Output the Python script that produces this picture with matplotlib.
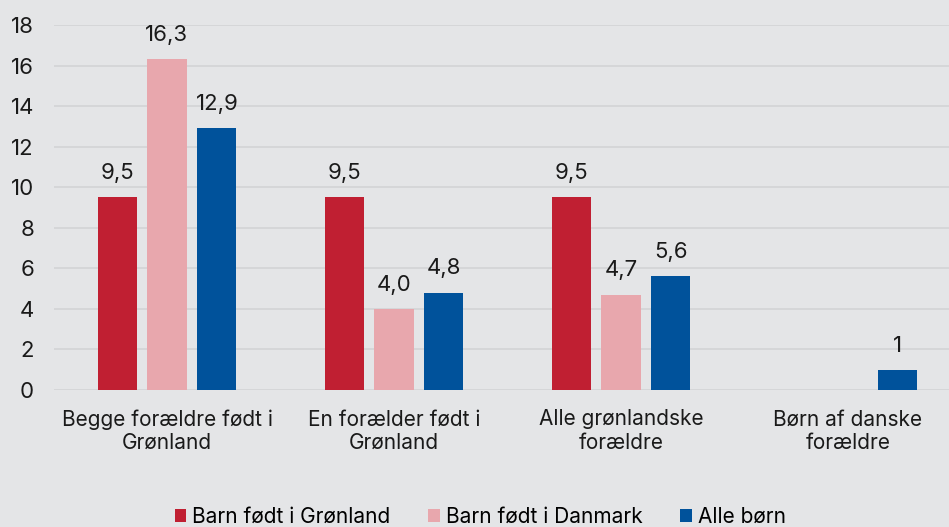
import matplotlib.pyplot as plt
import numpy as np

plt.rcParams['font.family'] = ['Inter', 'DejaVu Sans']

categories = ["Begge forældre født i\nGrønland", "En forælder født i\nGrønland",
              "Alle grønlandske\nforældre", "Børn af danske\nforældre"]
series_names = ["Barn født i Grønland", "Barn født i Danmark", "Alle børn"]
born_gl = [9.5, 9.5, 9.5, np.nan]
born_dk = [16.3, 4.0, 4.7, np.nan]
alle = [12.9, 4.8, 5.6, 1.0]
labels_gl = ["9,5", "9,5", "9,5", ""]
labels_dk = ["16,3", "4,0", "4,7", ""]
labels_alle = ["12,9", "4,8", "5,6", "1"]

colors = ["#C01F32", "#E8A7AD", "#00529B"]
bg = "#E4E5E7"
fs = 15
fs_num = 16

fig = plt.figure(figsize=(9.49, 5.27), dpi=100, facecolor=bg)
ax = fig.add_axes([53.5 / 949, 1 - 390 / 527, 908 / 949, 365 / 527], facecolor=bg)

x = np.arange(len(categories))
w = 0.172
step = 0.22
for i, (vals, labs) in enumerate(zip([born_gl, born_dk, alle],
                                     [labels_gl, labels_dk, labels_alle])):
    pos = x + (i - 1) * step
    bars = ax.bar(pos, vals, width=w, color=colors[i], label=series_names[i], zorder=3)
    for b, v, lab in zip(bars, vals, labs):
        if lab:
            ax.text(b.get_x() + b.get_width() / 2, v + 0.7, lab,
                    ha='center', va='bottom', fontsize=fs_num, color='#1a1a1a')

ax.set_xlim(-0.5, len(categories) - 0.5)
ax.set_ylim(0, 18)
ax.set_yticks(range(0, 19, 2))
ax.yaxis.grid(True, color='#D3D4D6', linewidth=1.2, zorder=0)
ax.set_axisbelow(True)
ax.set_xticks(x)
ax.set_xticklabels(categories, fontsize=fs, color='#1a1a1a', linespacing=1.2)
ax.tick_params(axis='y', labelsize=fs_num, length=0, pad=14, labelcolor='#1a1a1a')
ax.tick_params(axis='x', length=0, pad=14)
for s in ax.spines.values():
    s.set_visible(False)

fig.legend(loc='lower center', bbox_to_anchor=(0.506, -0.035), ncol=3, frameon=False,
           fontsize=fs, handlelength=0.55, handleheight=0.55, handletextpad=0.3,
           columnspacing=1.8)

fig.savefig('out.png', dpi=100, facecolor=bg)
